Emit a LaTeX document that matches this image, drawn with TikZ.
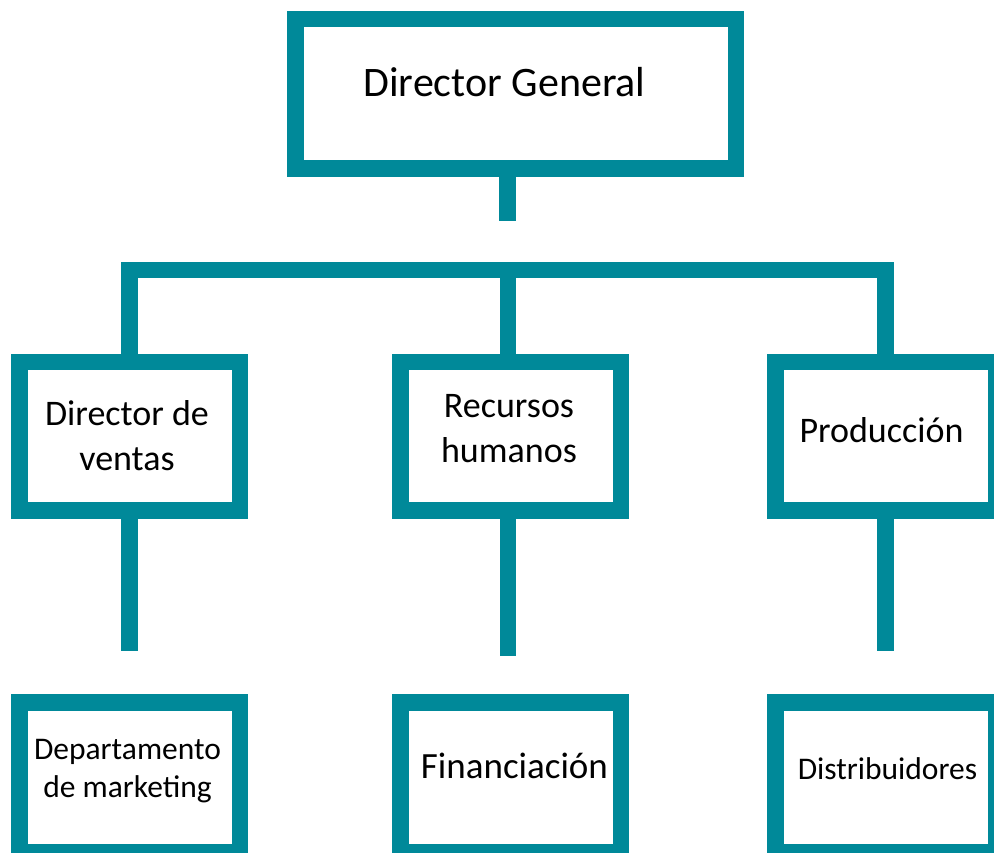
\documentclass[tikz,border=0pt]{standalone}
\usepackage{fontspec}
\setmainfont{Carlito}
\definecolor{teal}{RGB}{0,137,153}
\begin{document}
\begin{tikzpicture}[x=1pt,y=-1pt,
  box/.style={draw=teal,line width=16.5pt,fill=white,inner sep=0pt,rectangle},
  topbox/.style={box,minimum width=440.5pt,minimum height=149.5pt},
  midbox/.style={box,minimum width=220.5pt,minimum height=148.5pt},
  lowbox/.style={box,minimum width=220.5pt,minimum height=149.5pt},
  conn/.style={draw=teal,line width=16.5pt,line join=miter,line cap=butt},
  lbl/.style={anchor=base,inner sep=0pt,align=center,text=black}]
\useasboundingbox (0,0) rectangle (994,853);
\clip (0,0) rectangle (994,853);
\fill[white] (0,0) rectangle (994,853);
% boxes
\node[topbox] (dg) at (515.5,94) {};
\node[midbox] (dv) at (129.5,436) {};
\node[midbox] (rh) at (510.5,436) {};
\node[midbox] (pr) at (885.5,436) {};
\node[lowbox] (dm) at (129.5,777) {};
\node[lowbox] (fi) at (510.5,777) {};
\node[lowbox] (di) at (885.5,777) {};
% coordinates
\coordinate (stem) at (507.5,221);
\coordinate (barL) at (129.5,270);
\coordinate (barR) at (885.5,270);
\coordinate (ea) at (129.5,651);
\coordinate (eb) at (508,656);
\coordinate (ec) at (885.5,651);
% connectors
\draw[conn] (dg.south -| stem) -- (stem);
\draw[conn] (dv.north) -- (barL) -- (barR) -- (pr.north);
\draw[conn] (rh.north -| eb) -- (eb |- barL);
\draw[conn] (dv.south) -- (ea);
\draw[conn] (rh.south -| eb) -- (eb);
\draw[conn] (pr.south) -- (ec);
% labels
\node[lbl,font=\fontsize{42}{51}\selectfont] (tdg) at (504.5,97) {Director General};
\node[lbl,font=\fontsize{36}{45}\selectfont] (tdv) at (127,470) {Director de\\ventas};
\node[lbl,font=\fontsize{36}{45}\selectfont] (trh) at (509,462) {Recursos\\humanos};
\node[lbl,font=\fontsize{36}{45}\selectfont] (tpr) at (881.5,442) {Producción};
\node[lbl,font=\fontsize{31.5}{38}\selectfont] (tdm) at (127.5,797) {Departamento\\de marketing};
\node[lbl,font=\fontsize{37}{45}\selectfont] (tfi) at (514.5,778) {Financiación};
\node[lbl,font=\fontsize{31.5}{38}\selectfont] (tdi) at (887.5,779) {Distribuidores};
\end{tikzpicture}
\end{document}
